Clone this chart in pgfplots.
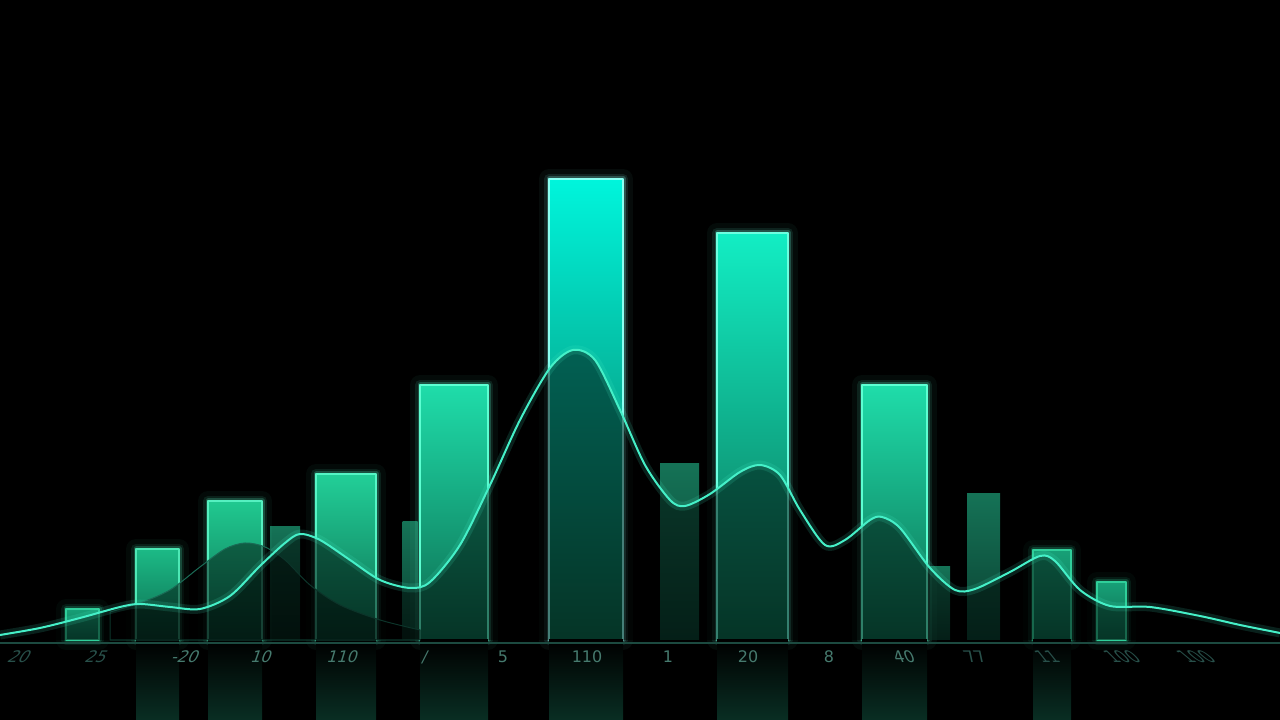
\documentclass[border=0pt]{standalone}
\usepackage{pgfplots}
\pgfplotsset{compat=1.18}
\usepackage{fontspec}
\setmainfont{DejaVu Sans}

\definecolor{barbot}{HTML}{0C6A4E}
\definecolor{midgreen}{HTML}{16B888}
\definecolor{backtop}{HTML}{157256}
\definecolor{backbot}{HTML}{0A3F30}
\definecolor{curve}{HTML}{45F0C8}
\definecolor{hump}{HTML}{1A6A55}
\definecolor{lbl}{HTML}{467A6E}
\definecolor{lbldim}{HTML}{28504A}
\definecolor{base}{HTML}{1C4A40}
\definecolor{reflect}{HTML}{092E23}
% bar tops and edges, dim to bright
\definecolor{topA}{HTML}{17A077}\definecolor{edgeA}{HTML}{2FCF9A}
\definecolor{topB}{HTML}{1CBA86}\definecolor{edgeB}{HTML}{4DE8B5}
\definecolor{topC}{HTML}{20C990}\definecolor{edgeC}{HTML}{55F0C0}
\definecolor{topD}{HTML}{22CF98}\definecolor{edgeD}{HTML}{55F5C5}
\definecolor{topE}{HTML}{1FDDAA}\definecolor{edgeE}{HTML}{5DFFD2}
\definecolor{topF}{HTML}{00F5DC}\definecolor{edgeF}{HTML}{8CFFF2}
\definecolor{topG}{HTML}{12EEC4}\definecolor{edgeG}{HTML}{6CFFE0}

% one glowing bar: center, value, width, top colour, edge colour
\newcommand{\glowbar}[5]{%
  \addplot[ybar, bar shift=0pt, bar width=#3, fill=none, draw=#5, line width=10bp, line join=round, opacity=0.045] coordinates {(#1,#2)};
  \addplot[ybar, bar shift=0pt, bar width=#3, fill=none, draw=#5, line width=5bp, line join=round, opacity=0.1] coordinates {(#1,#2)};
  \addplot[ybar, bar shift=0pt, bar width=#3, fill=none, draw=#5, line width=2.5bp, line join=round, opacity=0.22] coordinates {(#1,#2)};
  \addplot[ybar, bar shift=0pt, bar width=#3, draw=#5, line width=0.9bp, line join=round, top color=#4, middle color=#4!45!midgreen, bottom color=barbot] coordinates {(#1,#2)};
}
\newcommand{\backbar}[3]{%
  \addplot[ybar, bar shift=0pt, bar width=#3, draw=none, top color=backtop, bottom color=backbot] coordinates {(#1,#2)};
}
\newcommand{\reflbar}[2]{%
  \addplot[ybar, bar shift=0pt, bar width=#2, draw=none, top color=black, bottom color=reflect] coordinates {(#1,-80)};
}

\begin{document}
\begin{tikzpicture}
\begin{axis}[
  scale only axis,
  width=640bp, height=360bp,
  xmin=0, xmax=1280,
  ymin=-80, ymax=640,
  hide axis,
  axis background/.style={fill=black},
]
% back bars
\backbar{285}{113}{30}
\backbar{410}{118}{15}
\backbar{679.5}{176}{39}
\backbar{940}{73}{20}
\backbar{983.5}{146}{33}

% front bars
\glowbar{82.5}{31}{33}{topA}{edgeA}
\glowbar{157.5}{91}{43}{topB}{edgeB}
\glowbar{235}{139}{54}{topC}{edgeC}
\glowbar{346}{166}{60}{topD}{edgeD}
\glowbar{454}{255}{68}{topE}{edgeE}
\glowbar{586}{461}{74}{topF}{edgeF}
\glowbar{752.5}{407}{71}{topG}{edgeG}
\glowbar{894.5}{255}{65}{topE}{edgeE}
\glowbar{1052}{90}{38}{topA}{edgeA}
\glowbar{1111.5}{58}{29}{topA}{edgeA}

% reflections below the base line
\reflbar{157.5}{43}
\reflbar{235}{54}
\reflbar{346}{60}
\reflbar{454}{68}
\reflbar{586}{74}
\reflbar{752.5}{71}
\reflbar{894.5}{65}
\reflbar{1052}{38}

% second (dark) hump
\addplot[smooth, fill=black, fill opacity=0.45, draw=hump, line width=0.5bp] coordinates {
  (110,28) (140,37) (170,50) (200,73) (225,91) (245,97) (265,93)
  (285,80) (310,55) (340,35) (380,20) (420,10)
} \closedcycle;

% main curve
\addplot[smooth, fill=black, fill opacity=0.5, draw=none] coordinates {
  (0,5) (40,12) (80,22) (120,33) (140,36) (170,33) (200,31) (230,44)
  (260,74) (285,97) (300,106) (320,100) (350,80) (380,60) (410,52)
  (430,58) (460,95) (490,155) (520,220) (550,272) (573,290) (595,280)
  (620,230) (645,175) (670,140) (685,134) (710,146) (740,168) (760,175)
  (780,165) (800,130) (825,95) (845,100) (870,120) (882,123) (900,112)
  (930,72) (955,50) (975,51) (1010,68) (1040,84) (1055,79) (1080,50)
  (1110,34) (1150,33) (1200,24) (1240,15) (1280,7)
} \closedcycle;

% base line
\addplot[draw=base, line width=0.7bp] coordinates {(0,-3) (1280,-3)};

\addplot[smooth, draw=curve, line width=4.5bp, opacity=0.14] coordinates {
  (0,5) (40,12) (80,22) (120,33) (140,36) (170,33) (200,31) (230,44)
  (260,74) (285,97) (300,106) (320,100) (350,80) (380,60) (410,52)
  (430,58) (460,95) (490,155) (520,220) (550,272) (573,290) (595,280)
  (620,230) (645,175) (670,140) (685,134) (710,146) (740,168) (760,175)
  (780,165) (800,130) (825,95) (845,100) (870,120) (882,123) (900,112)
  (930,72) (955,50) (975,51) (1010,68) (1040,84) (1055,79) (1080,50)
  (1110,34) (1150,33) (1200,24) (1240,15) (1280,7)
};
\addplot[smooth, draw=curve, line width=1bp] coordinates {
  (0,5) (40,12) (80,22) (120,33) (140,36) (170,33) (200,31) (230,44)
  (260,74) (285,97) (300,106) (320,100) (350,80) (380,60) (410,52)
  (430,58) (460,95) (490,155) (520,220) (550,272) (573,290) (595,280)
  (620,230) (645,175) (670,140) (685,134) (710,146) (740,168) (760,175)
  (780,165) (800,130) (825,95) (845,100) (870,120) (882,123) (900,112)
  (930,72) (955,50) (975,51) (1010,68) (1040,84) (1055,79) (1080,50)
  (1110,34) (1150,33) (1200,24) (1240,15) (1280,7)
};

% tick labels
\tikzset{lab/.style={font=\fontsize{8}{9}\selectfont, text=lbl, inner sep=0pt}}
\node[lab, text=lbldim, xslant=0.6] at (axis cs:20,-17) {20};
\node[lab, text=lbldim, xslant=0.5] at (axis cs:97,-17) {25};
\node[lab, xslant=0.45] at (axis cs:186,-17) {-20};
\node[lab, xslant=0.35] at (axis cs:262,-17) {10};
\node[lab, xslant=0.3] at (axis cs:343,-17) {110};
\node[lab, xslant=0.2] at (axis cs:425,-17) {/};
\node[lab] at (axis cs:503,-17) {5};
\node[lab] at (axis cs:587,-17) {110};
\node[lab] at (axis cs:668,-17) {1};
\node[lab] at (axis cs:748,-17) {20};
\node[lab] at (axis cs:829,-17) {8};
\node[lab, xslant=-0.4] at (axis cs:904,-17) {40};
\node[lab, text=lbldim, xslant=-0.6] at (axis cs:975,-17) {77};
\node[lab, text=lbldim, xslant=-0.8] at (axis cs:1047,-17) {11};
\node[lab, text=lbldim, xslant=-1] at (axis cs:1122,-17) {100};
\node[lab, text=lbldim, xslant=-1.2] at (axis cs:1196,-17) {100};
\end{axis}
\end{tikzpicture}
\end{document}
